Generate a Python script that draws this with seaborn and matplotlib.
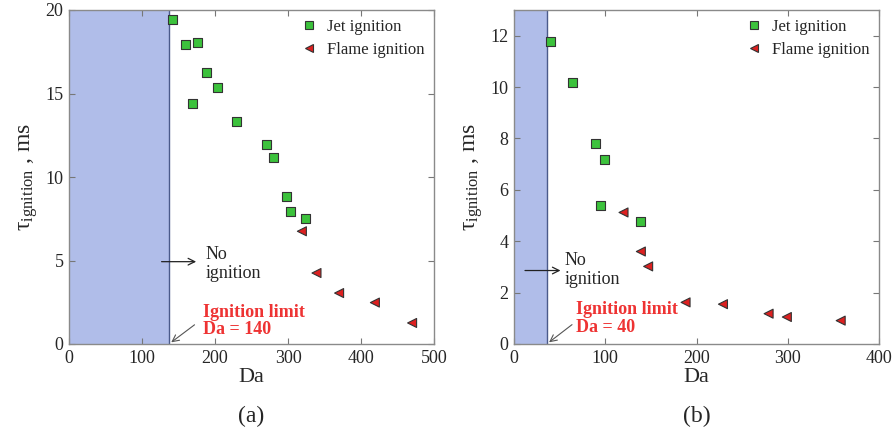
import matplotlib
matplotlib.use("Agg")
import matplotlib.pyplot as plt
import seaborn as sns
import pandas as pd
import numpy as np

# ---- data: panel (a)
a_jet_da = [142, 159, 176, 169, 189, 204, 229, 270, 280, 298, 304, 324]
a_jet_tau = [19.42, 17.96, 18.06, 14.43, 16.25, 15.33, 13.33, 11.94, 11.14, 8.84, 7.94, 7.52]
a_flame_da = [319, 339, 370, 419, 470]
a_flame_tau = [6.75, 4.25, 3.05, 2.48, 1.26]
a_limit = 137

# ---- data: panel (b)
b_jet_da = [40, 64, 89, 99, 95, 139]
b_jet_tau = [11.79, 10.19, 7.80, 7.18, 5.40, 4.78]
b_flame_da = [120, 139, 147, 188, 229, 279, 299, 358]
b_flame_tau = [5.12, 3.60, 3.02, 1.62, 1.55, 1.18, 1.05, 0.91]
b_limit = 36

series = ["Jet ignition", "Flame ignition"]
x_ticks_a = [0, 100, 200, 300, 400, 500]
y_ticks_a = [0, 5, 10, 15, 20]
x_ticks_b = [0, 100, 200, 300, 400]
y_ticks_b = [0, 2, 4, 6, 8, 10, 12]

sns.set_theme(style="white")
plt.rcParams["font.family"] = ["Liberation Serif", "DejaVu Serif"]
plt.rcParams["mathtext.fontset"] = "custom"
plt.rcParams["mathtext.rm"] = "Liberation Serif"
plt.rcParams["mathtext.it"] = "Liberation Serif:italic"

fig = plt.figure(figsize=(8.94, 4.32), dpi=100)
axA = fig.add_axes([69/894, 88/432, 365/894, 334/432])
axB = fig.add_axes([514/894, 88/432, 365/894, 334/432])

palette = {"Jet ignition": "#3cc23c", "Flame ignition": "#dd2020"}
markers = {"Jet ignition": "s", "Flame ignition": "<"}


def panel(ax, jd, jt, fd, ft, limit, xlim, ylim, xt, yt, no_ign, lim_txt, cap):
    df = pd.DataFrame({
        "Da": list(jd) + list(fd),
        "tau": list(jt) + list(ft),
        "kind": [series[0]] * len(jd) + [series[1]] * len(fd),
    })
    ax.axvspan(0, limit, facecolor="#b0bde9", edgecolor="none", zorder=0)
    ax.axvline(limit, color="#4a5a8a", lw=1.0, zorder=1)
    sns.scatterplot(data=df, x="Da", y="tau", hue="kind", style="kind",
                    palette=palette, markers=markers, s=42,
                    edgecolor="#333333", linewidth=0.8, ax=ax, zorder=3)
    ax.set_xlim(*xlim)
    ax.set_ylim(*ylim)
    ax.set_xticks(xt)
    ax.set_yticks(yt)
    ax.tick_params(direction="in", length=4, width=0.8, color="#777777",
                   labelsize=13, top=True, right=True, bottom=True, left=True, pad=4)
    for s in ax.spines.values():
        s.set_color("#8a8a8a")
        s.set_linewidth(1.0)
    ax.set_xlabel("Da", fontsize=16, labelpad=1)
    ax.set_ylabel("\u03c4" + r"$_{\mathrm{ignition}}$ , ms", fontsize=17, labelpad=4)
    ax.legend(loc="upper right", frameon=False, fontsize=12,
              handletextpad=0.5, borderaxespad=0.1, borderpad=0.45,
              labelspacing=0.4, handlelength=1.2, markerscale=0.8)
    # No ignition annotation
    (tx, ty1, ty2, ax0, ax1, ay) = no_ign
    ax.text(tx, ty1, "No", fontsize=13, va="center", ha="left")
    ax.text(tx, ty2, "ignition", fontsize=13, va="center", ha="left")
    ax.annotate("", xy=(ax1, ay), xytext=(ax0, ay),
                arrowprops=dict(arrowstyle="->", color="#222222", lw=0.9))
    # ignition limit
    (lx, ly1, ly2, sx, sy, label) = lim_txt
    ax.text(lx, ly1, "Ignition limit", fontsize=13, fontweight="bold",
            color="#ee3333", va="center", ha="left")
    ax.text(lx, ly2, label, fontsize=13, fontweight="bold",
            color="#ee3333", va="center", ha="left")
    ax.annotate("", xy=(limit, 0), xytext=(sx, sy),
                arrowprops=dict(arrowstyle="->", color="#555555", lw=0.8))
    ax.text(0.5, -0.185, cap, transform=ax.transAxes, fontsize=17,
            ha="center", va="top")


panel(axA, a_jet_da, a_jet_tau, a_flame_da, a_flame_tau, a_limit,
      (0, 500), (0, 20), x_ticks_a, y_ticks_a,
      (187, 5.35, 4.25, 123, 178, 4.93),
      (183, 1.9, 0.84, 175, 1.25, "Da = 140"), "(a)")
panel(axB, b_jet_da, b_jet_tau, b_flame_da, b_flame_tau, b_limit,
      (0, 400), (0, 13), x_ticks_b, y_ticks_b,
      (55, 3.25, 2.5, 9, 54, 2.86),
      (68, 1.33, 0.65, 66, 0.82, "Da = 40"), "(b)")

fig.savefig("out.png", dpi=100)
